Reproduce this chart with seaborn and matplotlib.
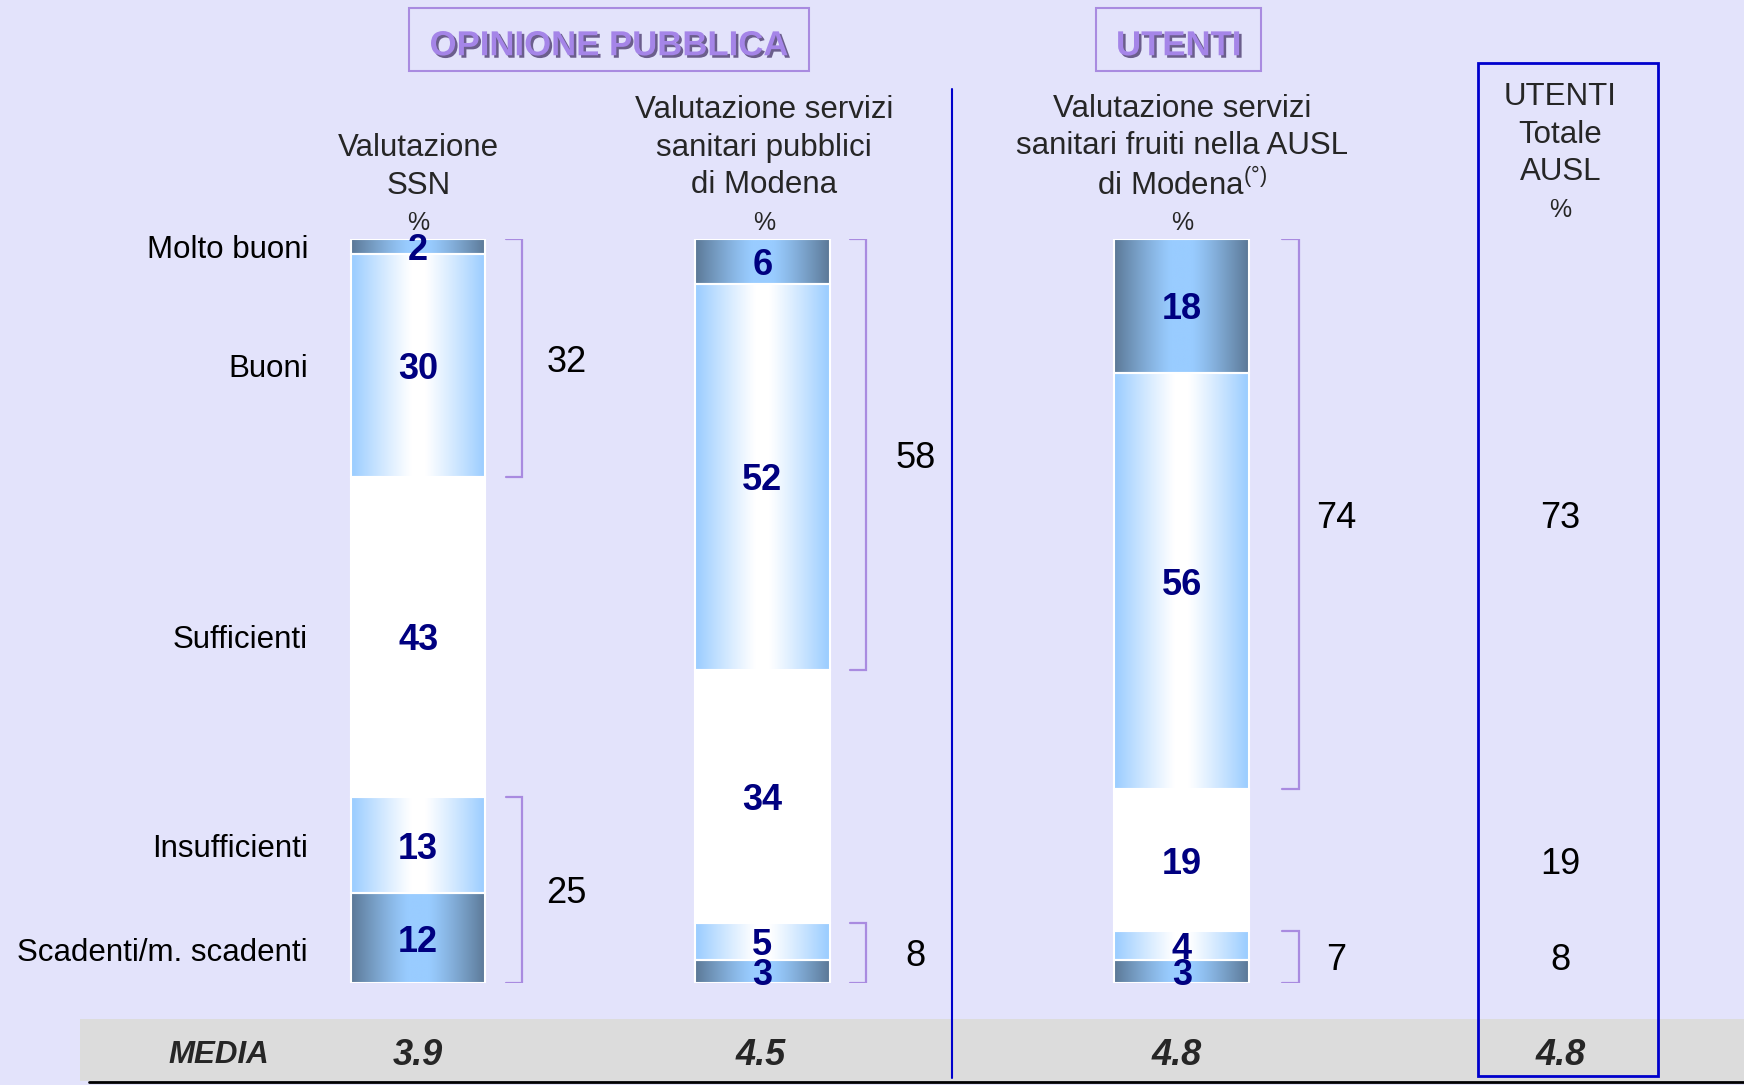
import numpy as np
import matplotlib
matplotlib.use("Agg")
import matplotlib.pyplot as plt
import matplotlib.patheffects as pe
from matplotlib.patches import Rectangle
from matplotlib.colors import to_rgb
import seaborn as sns

# dati
colonne = ["Valutazione\nSSN",
           "Valutazione servizi\nsanitari pubblici\ndi Modena",
           "Valutazione servizi\nsanitari fruiti nella AUSL\ndi Modena$^{(°)}$"]
categorie = ["Molto buoni", "Buoni", "Sufficienti", "Insufficienti", "Scadenti/m. scadenti"]
molto_buoni = [2, 6, 18]
buoni = [30, 52, 56]
sufficienti = [43, 34, 19]
insufficienti = [13, 5, 4]
scadenti = [12, 3, 3]
tot_positivi = [32, 58, 74]
tot_negativi = [25, 8, 7]
media = [3.9, 4.5, 4.8]
utenti_label = "UTENTI\nTotale\nAUSL"
utenti_totale = [73, 19, 8]   # positivi, sufficienti, negativi
utenti_media = 4.8
gruppi = ["OPINIONE PUBBLICA", "UTENTI"]

sns.set_theme(style="white")
plt.rcParams["font.family"] = ["Liberation Sans", "DejaVu Sans"]
plt.rcParams["mathtext.fontset"] = "custom"
plt.rcParams["mathtext.rm"] = "Liberation Sans"
plt.rcParams["mathtext.it"] = "Liberation Sans"
plt.rcParams["mathtext.default"] = "regular"

BG = "#E3E3FB"
NAVY = "#000080"
VIOLA = "#A98BE0"
BLU = "#0000CC"
CHIARO = np.array(to_rgb("#99CCFF"))
SCURO = np.array(to_rgb("#5B7896"))
BIANCO = np.array([1.0, 1.0, 1.0])
VA = "center_baseline"

fig = plt.figure(figsize=(17.44, 10.85), dpi=100, facecolor=BG)
W, H = 1568, 976  # layout in pixel del riferimento ridotto

bg = fig.add_axes([0, 0, 1, 1])
bg.set_xlim(0, W)
bg.set_ylim(H, 0)
bg.axis("off")

y0, y100 = 884, 215
ax = fig.add_axes([0, (H - y0) / H, 1, (y0 - y100) / H])
ax.set_facecolor("none")

col_x = [376, 685.5, 1062.5]
bar_w = 121

# barre impilate dal basso
segmenti = [scadenti, insufficienti, sufficienti, buoni, molto_buoni]
tipi = ["scuro", "chiaro", "bianco", "chiaro", "scuro"]
base = np.zeros(3)
cum = [base.copy()]
layers = []
for vals in segmenti:
    n0 = len(ax.patches)
    sns.barplot(x=col_x, y=vals, bottom=base, width=bar_w / np.diff(col_x).min(),
                native_scale=True, orient="x", errorbar=None, color="white",
                edgecolor="white", linewidth=1.5, ax=ax)
    layers.append(ax.patches[n0:])
    base = base + np.array(vals)
    cum.append(base.copy())


def sfuma(p, tipo):
    x, y, w, h = p.get_x(), p.get_y(), p.get_width(), p.get_height()
    t = np.abs(np.linspace(-1, 1, 256))
    if tipo == "scuro":
        c0, c1 = CHIARO, SCURO
        f = np.clip((t - 0.15) / 0.85, 0, 1) ** 1.2
    elif tipo == "chiaro":
        c0, c1 = BIANCO, CHIARO
        f = np.clip((t - 0.1) / 0.9, 0, 1) ** 1.1
    else:
        c0, c1 = BIANCO, BIANCO
        f = np.zeros_like(t)
    img = c0 + (c1 - c0) * f[:, None]
    im = ax.imshow(img[None], extent=(x, x + w, y, y + h), aspect="auto",
                   interpolation="bilinear", zorder=2)
    im.set_clip_path(p)
    p.set_facecolor("none")
    p.set_zorder(3)


for patches, tipo in zip(layers, tipi):
    for p in patches:
        sfuma(p, tipo)

# etichette dei valori
for k, vals in enumerate(segmenti):
    for i, v in enumerate(vals):
        ax.text(col_x[i], cum[k][i] + v / 2, str(v), ha="center", va=VA,
                color=NAVY, fontsize=26, fontweight="bold", zorder=5)

# categorie a sinistra (centri della prima barra)
for k, nome in enumerate(categorie[::-1]):
    yy = cum[k][0] + segmenti[k][0] / 2
    if k == 0:
        yy -= 1.5
    ax.text(277, yy, nome, ha="right", va=VA, fontsize=22.5, color="black")

# parentesi
br_off = [33, 33, 45]
lab_off = [40, 44, 33]
tick = 15
for i, cx in enumerate(col_x):
    bx = cx + bar_w / 2 + br_off[i]
    for lo, hi, tot in [(cum[0][i], cum[2][i], tot_negativi[i]),
                        (cum[3][i], cum[5][i], tot_positivi[i])]:
        ax.plot([bx - tick, bx, bx, bx - tick], [hi, hi, lo, lo], color=VIOLA, lw=1.6,
                solid_joinstyle="miter")
        ax.text(bx + lab_off[i], (lo + hi) / 2, str(tot), ha="center", va=VA,
                fontsize=26, color="black")

# colonna utenti totale AUSL
ux = 1403
ypos = [(cum[3][2] + cum[5][2]) / 2, cum[2][2] + sufficienti[2] / 2, (cum[0][2] + cum[2][2]) / 2]
for v, yy in zip(utenti_totale, ypos):
    ax.text(ux, yy, str(v), ha="center", va=VA, fontsize=26, color="black")

ax.set_xlim(0, W)
ax.set_ylim(0, 100)
ax.axis("off")

# intestazioni
header_x = [376, 687, 1063]
header_y = [150, 133, 133]
for hx, hy, txt in zip(header_x, header_y, colonne):
    bg.text(hx, hy, txt, ha="center", va="center", fontsize=22.5, linespacing=1.33)
    bg.text(hx, 198, "%", ha="center", va=VA, fontsize=18)
bg.text(ux, 121, utenti_label, ha="center", va="center", fontsize=22.5, linespacing=1.33)
bg.text(ux, 187, "%", ha="center", va=VA, fontsize=18)

# riquadri dei gruppi
for (gx, gw, gc), nome in zip([(368, 359, 548), (985, 149, 1060)], gruppi):
    bg.add_patch(Rectangle((gx, 7), gw, 57, fill=False, edgecolor=VIOLA, lw=1.5))
    bg.text(gc, 38, nome, ha="center", va=VA, fontsize=25, fontweight="bold",
            color="#A585E8",
            path_effects=[pe.SimplePatchShadow(offset=(1.8, -1.8), shadow_rgbFace="#5E5080", alpha=0.9),
                          pe.Normal()])

# fascia media
bg.add_patch(Rectangle((72, 917), W - 72, 55, facecolor="#DCDCDC", edgecolor="none", zorder=0))
bg.plot([80, W], [973.5, 973.5], color="black", lw=2)
bg.text(197, 946, "MEDIA", ha="center", va=VA, fontsize=22.5, fontweight="bold", style="italic")
for mx, m in zip([376, 684, 1058], media):
    bg.text(mx, 946, f"{m:.1f}", ha="center", va=VA, fontsize=26, fontweight="bold", style="italic")
bg.text(ux, 946, f"{utenti_media:.1f}", ha="center", va=VA, fontsize=26, fontweight="bold", style="italic")

# separatore e riquadro utenti
bg.plot([856, 856], [80, 970], color=BLU, lw=1.5)
bg.add_patch(Rectangle((1329, 57), 162, 911, fill=False, edgecolor=BLU, lw=2))

fig.savefig("out.png", dpi=100, facecolor=BG)
